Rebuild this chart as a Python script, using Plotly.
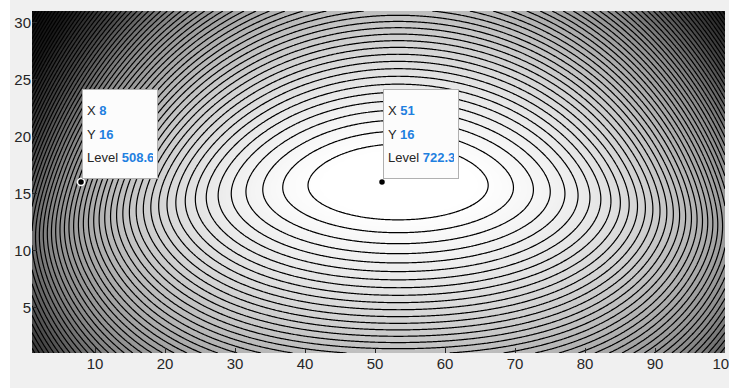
import numpy as np
import plotly.graph_objects as go

# ---- axes / ticks ----
x_ticks = [10, 20, 30, 40, 50, 60, 70, 80, 90, 100]
y_ticks = [5, 10, 15, 20, 25, 30]
x_range = [1, 100]
y_range = [1, 31]

# ---- data tips ----
tip_x = [8, 51]
tip_y = [16, 16]
tip_level = [508.6, 722.3]

# ---- surface shape parameters ----
peak_x = 53.3          # centre of the innermost ellipse
peak_y = 16.0
ridge_bend = 0.0018    # ridge droops slightly towards the left/right edges
soft_y = 2.5           # rounding of the vertical profile near the ridge
coef_y = 2.63          # vertical fall-off
coef_x4 = 1.35e-5      # extra steepening towards the left/right edges
level_step = 8.0
inner_drop = 11.9      # innermost contour below the peak
n_levels = 75

# grey shading (dark end compressed, like the picture)
shade_pos = [0.0, 0.30, 0.45, 0.60, 0.75, 0.90, 1.0]
shade_col = ["#000000", "#1a1a1a", "#444444", "#8a8a8a", "#b8b8b8", "#e4e4e4", "#ffffff"]


def vertical_term(dy):
    return coef_y * ((dy ** 2 + soft_y ** 2) ** 0.75 - soft_y ** 1.5)


def ridge_dy(xv, yv):
    dxv = xv - peak_x
    return yv - (peak_y - ridge_bend * dxv ** 2)


# horizontal curvature and peak value solved from the two data tips
e0 = (tip_x[0] - peak_x) ** 2
e1 = (tip_x[1] - peak_x) ** 2
r0 = tip_level[0] + vertical_term(ridge_dy(tip_x[0], tip_y[0])) + coef_x4 * e0 ** 2
r1 = tip_level[1] + vertical_term(ridge_dy(tip_x[1], tip_y[1])) + coef_x4 * e1 ** 2
coef_x2 = (r1 - r0) / (e0 - e1)
peak_level = r1 + coef_x2 * e1
level_top = peak_level - inner_drop

xs = np.linspace(x_range[0], x_range[1], 397)
ys = np.linspace(y_range[0], y_range[1], 241)
X, Y = np.meshgrid(xs, ys)
DX2 = (X - peak_x) ** 2
Z = peak_level - coef_x2 * DX2 - coef_x4 * DX2 ** 2 - vertical_term(ridge_dy(X, Y))

FONT = "Liberation Sans, Arial, Helvetica, sans-serif"
BLUE = "#1f80e0"
DARK = "#262626"

fig = go.Figure()
fig.add_trace(go.Contour(
    x=xs, y=ys, z=Z,
    colorscale=[[p, c] for p, c in zip(shade_pos, shade_col)],
    contours=dict(coloring="heatmap",
                  start=level_top - n_levels * level_step,
                  end=level_top, size=level_step),
    line=dict(color="black", width=1.2),
    showscale=False, hoverinfo="skip",
))
fig.add_trace(go.Scatter(
    x=tip_x, y=tip_y, mode="markers",
    marker=dict(size=7, color="black", line=dict(color="white", width=1.5)),
    hoverinfo="skip", showlegend=False,
))


def span(t, color=DARK, bold=False):
    w = "font-weight:bold;" if bold else ""
    return f"<span style='font-size:13px;color:{color};{w}'>{t}</span>"


for xv, yv, lv in zip(tip_x, tip_y, tip_level):
    txt = (span("X ") + span(f"{xv}", BLUE, True) + "<br>" +
           span("Y ") + span(f"{yv}", BLUE, True) + "<br>" +
           span("Level ") + span(f"{lv:.1f}", BLUE, True))
    fig.add_annotation(
        x=xv, y=yv, xref="x", yref="y", text=txt, showarrow=False,
        xanchor="left", yanchor="bottom", xshift=1, yshift=3,
        align="left", valign="middle", width=66, height=80,
        bgcolor="#fcfcfc", bordercolor="#b0b0b0", borderwidth=1, borderpad=4,
        font=dict(family=FONT, size=18, color=DARK),
    )

W, H = 729, 388
ml, mr, mt, mb = 32, 4, 11, 35
pw, ph = W - ml - mr, H - mt - mb
# white strips of the original screenshot (left and top)
fig.add_shape(type="rect", xref="paper", yref="paper",
              x0=-ml / pw - 0.01, x1=(10 - ml) / pw, y0=-mb / ph - 0.01, y1=(H - mt) / ph + 0.01,
              fillcolor="white", line=dict(width=0), layer="below")
fig.add_shape(type="rect", xref="paper", yref="paper",
              x0=-ml / pw - 0.01, x1=1 + mr / pw + 0.01, y0=(H - mt - 3) / ph, y1=(H - mt) / ph + 0.01,
              fillcolor="white", line=dict(width=0), layer="below")

axis_common = dict(showgrid=False, zeroline=False, ticks="inside", ticklen=5,
                   tickcolor=DARK, tickwidth=1, showline=False, automargin=False,
                   ticklabeloverflow="allow",
                   tickfont=dict(family=FONT, size=15, color=DARK))
fig.update_xaxes(range=x_range, tickvals=x_ticks, **axis_common)
fig.update_yaxes(range=y_range, tickvals=y_ticks, **axis_common)

fig.update_layout(
    width=W, height=H, margin=dict(l=ml, r=mr, t=mt, b=mb, autoexpand=False),
    paper_bgcolor="#f0f0f0", plot_bgcolor="#f0f0f0", showlegend=False,
)
fig.write_html("out.html", config={"displayModeBar": False},
               post_script="document.body.style.margin='0';document.body.style.overflow='hidden';")
